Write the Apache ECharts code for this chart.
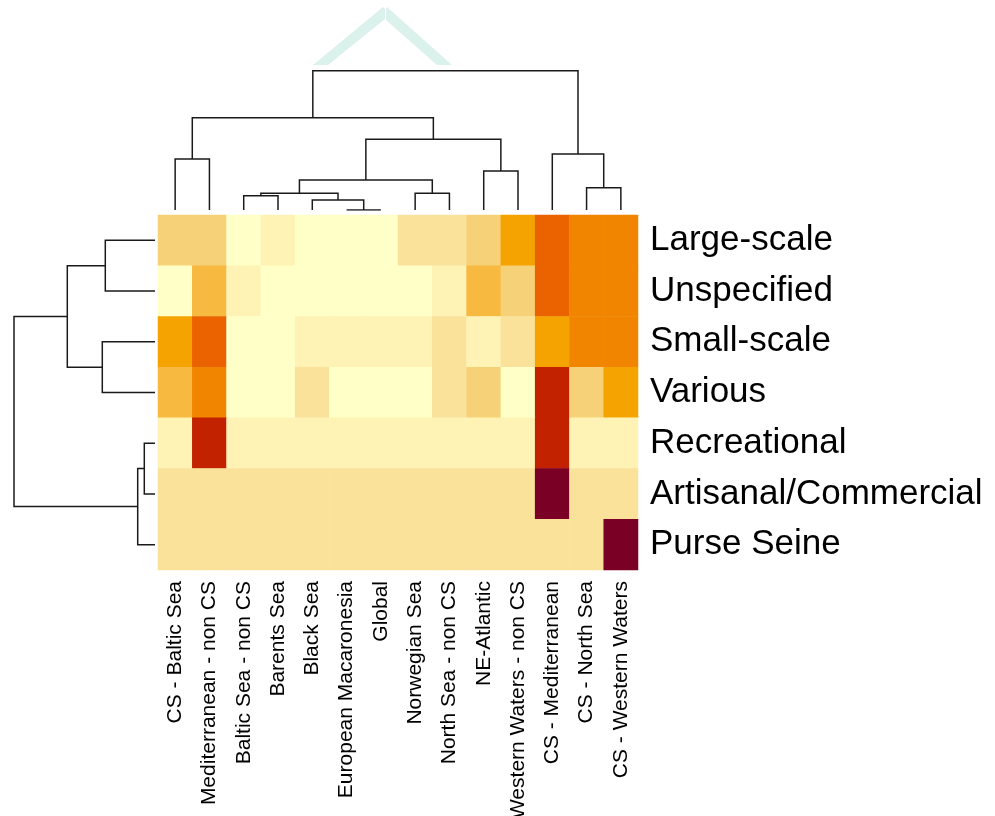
<!DOCTYPE html>
<html>
<head>
<meta charset="utf-8">
<title>Heatmap</title>
<script src="https://cdn.jsdelivr.net/npm/echarts@6/dist/echarts.min.js"></script>
<style>
  html, body { margin: 0; padding: 0; background: #fff; }
  #chart { width: 995px; height: 816px; }
</style>
</head>
<body>
<div id="chart"></div>
<script>
// columns and rows, already in dendrogram order
var columns = [
  'CS - Baltic Sea',
  'Mediterranean - non CS',
  'Baltic Sea - non CS',
  'Barents Sea',
  'Black Sea',
  'European Macaronesia',
  'Global',
  'Norwegian Sea',
  'North Sea - non CS',
  'NE-Atlantic',
  'Western Waters - non CS',
  'CS - Mediterranean',
  'CS - North Sea',
  'CS - Western Waters',
]
var rows = [
  'Large-scale',
  'Unspecified',
  'Small-scale',
  'Various',
  'Recreational',
  'Artisanal/Commercial',
  'Purse Seine',
]

// colour level of each cell (0 = lowest .. 9 = highest), one array per row
var largeScale   = [3, 3, 0, 1, 0, 0, 0, 2, 2, 3, 5, 7, 6, 6]
var unspecified  = [0, 4, 1, 0, 0, 0, 0, 0, 1, 4, 3, 7, 6, 6]
var smallScale   = [5, 7, 0, 0, 1, 1, 1, 1, 2, 1, 2, 5, 6, 6]
var various      = [4, 6, 0, 0, 2, 0, 0, 0, 2, 3, 0, 8, 3, 5]
var recreational = [1, 8, 1, 1, 1, 1, 1, 1, 1, 1, 1, 8, 1, 1]
var artisanal    = [2, 2, 2, 2, 2, 2, 2, 2, 2, 2, 2, 9, 2, 2]
var purseSeine   = [2, 2, 2, 2, 2, 2, 2, 2, 2, 2, 2, 2, 2, 9]
var rowValues = [largeScale, unspecified, smallScale, various, recreational, artisanal, purseSeine]

// hclust style merges: negative = leaf (1-based), positive = earlier merge
var colMerge = [
  [-6, -7], [-5, 1], [-3, -4], [3, 2], [-8, -9], [4, 5], [-13, -14],
  [-10, -11], [-1, -2], [-12, 7], [6, 8], [9, 11], [12, 10],
]
var colHeight = [0, 10, 14.3, 16.7, 16.7, 30, 22.3, 39, 51, 56, 70.7, 92.3, 139.3]

var rowMerge = [[-5, -6], [-7, 1], [-1, -2], [-3, -4], [3, 4], [5, 2]]
var rowHeight = [10.7, 17.3, 49.7, 52.7, 87.7, 141]

var palette = ['#FFFFC8', '#FEF3B5', '#FAE29A', '#F7D177', '#F7B940',
  '#F4A300', '#F28500', '#EB6300', '#C22200', '#7A0026']

var cells = []
rowValues.forEach(function (vals, r) {
  vals.forEach(function (v, c) {
    cells.push([c, r, v])
  })
})

// build the elbow segments of a dendrogram (pos = leaf axis, h = height)
function dendroLines(merge, heights, flip) {
  var pos = []
  var segs = []
  function node(id) {
    if (id < 0) return { p: -id - 1, h: 0 }
    return { p: pos[id - 1], h: heights[id - 1] }
  }
  merge.forEach(function (m, i) {
    var a = node(m[0])
    var b = node(m[1])
    var h = heights[i]
    pos[i] = (a.p + b.p) / 2
    var pts = [[a.p, a.h], [a.p, h], [b.p, h], [b.p, b.h]]
    if (flip) pts = pts.map(function (q) { return [q[1], q[0]] })
    segs.push({ coords: pts })
  })
  return segs
}

var lineStyle = { color: '#1a1a1a', width: 1.5, opacity: 1 }
var labelFont = '"Liberation Sans", Arial, Helvetica, sans-serif'

var chart = echarts.init(document.getElementById('chart'))
chart.setOption({
  animation: false,
  textStyle: { fontFamily: labelFont },
  graphic: [
    {
      type: 'polygon',
      shape: { points: [[313, 65], [383, 7], [385, 9], [385, 19], [328, 65]] },
      style: { fill: '#DAF1EC' },
      silent: true,
    },
    {
      type: 'polygon',
      shape: { points: [[387, 7], [452, 65], [437, 65], [386, 20], [386, 9]] },
      style: { fill: '#DAF1EC' },
      silent: true,
    },
  ],
  visualMap: {
    type: 'piecewise',
    show: false,
    seriesIndex: 0,
    dimension: 2,
    pieces: palette.map(function (col, i) {
      return { value: i, color: col }
    }),
  },
  grid: [
    { left: 158, top: 215, width: 480, height: 355, outerBoundsMode: 'none', containLabel: false },
    { left: 158, top: 70, width: 480, height: 140, outerBoundsMode: 'none', containLabel: false },
    { left: 14, top: 215, width: 141, height: 355, outerBoundsMode: 'none', containLabel: false },
  ],
  xAxis: [
    {
      gridIndex: 0,
      type: 'category',
      data: columns,
      axisLine: { show: false },
      axisTick: { show: false },
      splitLine: { show: false },
      axisLabel: {
        interval: 0,
        rotate: 90,
        margin: 11,
        fontSize: 21,
        color: '#000',
        fontFamily: labelFont,
      },
    },
    {
      gridIndex: 1,
      type: 'value',
      min: -0.5,
      max: columns.length - 0.5,
      show: false,
    },
    {
      gridIndex: 2,
      type: 'value',
      min: 0,
      max: 141,
      inverse: true,
      show: false,
    },
  ],
  yAxis: [
    {
      gridIndex: 0,
      type: 'category',
      data: rows,
      inverse: true,
      position: 'right',
      axisLine: { show: false },
      axisTick: { show: false },
      splitLine: { show: false },
      axisLabel: {
        interval: 0,
        margin: 12,
        fontSize: 35,
        color: '#000',
        fontFamily: labelFont,
      },
    },
    {
      gridIndex: 1,
      type: 'value',
      min: 0,
      max: 140,
      show: false,
    },
    {
      gridIndex: 2,
      type: 'value',
      min: -0.5,
      max: rows.length - 0.5,
      inverse: true,
      show: false,
    },
  ],
  series: [
    {
      type: 'heatmap',
      xAxisIndex: 0,
      yAxisIndex: 0,
      data: cells,
      itemStyle: { borderWidth: 0 },
      emphasis: { disabled: true },
    },
    {
      type: 'lines',
      coordinateSystem: 'cartesian2d',
      xAxisIndex: 1,
      yAxisIndex: 1,
      polyline: true,
      silent: true,
      lineStyle: lineStyle,
      data: dendroLines(colMerge, colHeight, false),
    },
    {
      type: 'lines',
      coordinateSystem: 'cartesian2d',
      xAxisIndex: 2,
      yAxisIndex: 2,
      polyline: true,
      silent: true,
      lineStyle: lineStyle,
      data: dendroLines(rowMerge, rowHeight, true),
    },
  ],
})
</script>
</body>
</html>
